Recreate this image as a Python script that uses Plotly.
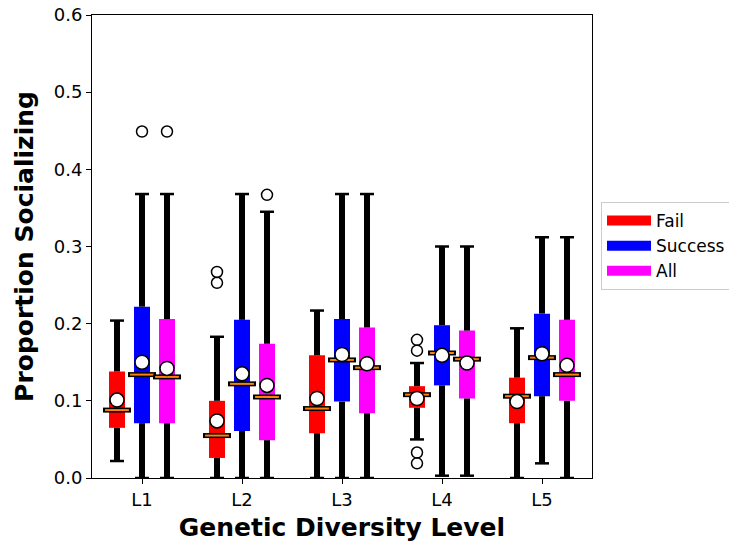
import plotly.graph_objects as go

# Proportion of time spent socializing, per genetic diversity level and outcome group
levels = ["L1", "L2", "L3", "L4", "L5"]
groups = ["Fail", "Success", "All"]
group_colors = ["#ff0000", "#0000ff", "#ff00ff"]

fail_lo = [0.022, 0.0, 0.0, 0.050, 0.0]
fail_q1 = [0.065, 0.026, 0.058, 0.091, 0.071]
fail_med = [0.088, 0.055, 0.090, 0.108, 0.106]
fail_q3 = [0.138, 0.100, 0.159, 0.119, 0.130]
fail_hi = [0.204, 0.183, 0.217, 0.149, 0.194]
fail_mean = [0.101, 0.074, 0.103, 0.103, 0.099]
fail_out = [[], [0.253, 0.267], [], [0.019, 0.033, 0.165, 0.179], []]

success_lo = [0.0, 0.0, 0.0, 0.003, 0.019]
success_q1 = [0.071, 0.061, 0.099, 0.120, 0.106]
success_med = [0.134, 0.122, 0.153, 0.162, 0.156]
success_q3 = [0.222, 0.205, 0.206, 0.198, 0.213]
success_hi = [0.368, 0.368, 0.368, 0.300, 0.312]
success_mean = [0.150, 0.135, 0.160, 0.159, 0.161]
success_out = [[0.449], [], [], [], []]

all_lo = [0.0, 0.0, 0.0, 0.003, 0.0]
all_q1 = [0.071, 0.049, 0.084, 0.103, 0.100]
all_med = [0.131, 0.105, 0.143, 0.154, 0.134]
all_q3 = [0.206, 0.174, 0.195, 0.191, 0.205]
all_hi = [0.368, 0.345, 0.368, 0.300, 0.312]
all_mean = [0.142, 0.120, 0.148, 0.149, 0.146]
all_out = [[0.449], [0.367], [], [], []]

stats = [
    (fail_lo, fail_q1, fail_med, fail_q3, fail_hi, fail_mean, fail_out),
    (success_lo, success_q1, success_med, success_q3, success_hi, success_mean, success_out),
    (all_lo, all_q1, all_med, all_q3, all_hi, all_mean, all_out),
]

offsets = [-0.25, 0.0, 0.25]
box_width = 0.16
base_pos = list(range(1, len(levels) + 1))

fig = go.Figure()

# whiskers, caps and boxes for each group
for g, (lo, q1, med, q3, hi, mean, out) in enumerate(stats):
    xs = [p + offsets[g] for p in base_pos]

    wx, wy = [], []
    for x, a, b, c, d in zip(xs, lo, q1, q3, hi):
        wx += [x, x, None, x, x, None]
        wy += [a, b, None, c, d, None]
    fig.add_trace(go.Scatter(x=wx, y=wy, mode="lines",
                             line=dict(color="black", width=6),
                             showlegend=False, hoverinfo="skip"))
    fig.add_trace(go.Scatter(x=xs + xs, y=lo + hi, mode="markers",
                             marker=dict(symbol="line-ew", size=10,
                                         line=dict(color="black", width=2.5)),
                             showlegend=False, hoverinfo="skip"))
    fig.add_trace(go.Bar(x=xs, y=[c - b for b, c in zip(q1, q3)], base=q1,
                         width=box_width, marker=dict(color=group_colors[g], line=dict(width=0)),
                         showlegend=False, hoverinfo="skip"))

# medians, means and outliers
for g, (lo, q1, med, q3, hi, mean, out) in enumerate(stats):
    xs = [p + offsets[g] for p in base_pos]
    fig.add_trace(go.Scatter(x=xs, y=med, mode="markers",
                             marker=dict(symbol="line-ew", size=20,
                                         line=dict(color="black", width=5)),
                             showlegend=False, hoverinfo="skip"))
    fig.add_trace(go.Scatter(x=xs, y=med, mode="markers",
                             marker=dict(symbol="line-ew", size=17,
                                         line=dict(color="#ff7f0e", width=2)),
                             showlegend=False, hoverinfo="skip"))
    fig.add_trace(go.Scatter(x=xs, y=mean, mode="markers",
                             marker=dict(symbol="circle", size=14, color="white",
                                         line=dict(color="black", width=1.5)),
                             showlegend=False, hoverinfo="skip"))
    ox, oy = [], []
    for x, vals in zip(xs, out):
        ox += [x] * len(vals)
        oy += vals
    fig.add_trace(go.Scatter(x=ox, y=oy, mode="markers",
                             marker=dict(symbol="circle-open", size=11, color="black",
                                         line=dict(width=1.5)),
                             showlegend=False, hoverinfo="skip"))

# legend entries
for name, col in zip(groups, group_colors):
    fig.add_trace(go.Scatter(x=[None], y=[None], mode="lines", name=name,
                             line=dict(color=col, width=12)))

fig.update_layout(
    width=729, height=542,
    margin=dict(l=92, r=137, t=15, b=64, autoexpand=False),
    paper_bgcolor="white", plot_bgcolor="white",
    barmode="overlay",
    font=dict(family="DejaVu Sans", color="black"),
    legend=dict(x=1.018, y=0.596, xanchor="left", yanchor="top",
                bordercolor="#cccccc", borderwidth=1, bgcolor="white",
                font=dict(size=17), tracegroupgap=0, itemwidth=44),
)
fig.update_xaxes(range=[0.5, 5.5], tickvals=base_pos, ticktext=levels,
                 showgrid=False, zeroline=False, showline=True, linecolor="black",
                 linewidth=1, mirror=True, ticks="outside", ticklen=5, tickcolor="black",
                 tickfont=dict(size=18), automargin=False,
                 title=dict(text="<b>Genetic Diversity Level</b>", font=dict(size=25), standoff=10))
fig.update_yaxes(range=[0, 0.6], tickvals=[0, 0.1, 0.2, 0.3, 0.4, 0.5, 0.6],
                 tickformat=".1f",
                 showgrid=False, zeroline=False, showline=True, linecolor="black",
                 linewidth=1, mirror=True, ticks="outside", ticklen=5, tickcolor="black",
                 tickfont=dict(size=18), automargin=False,
                 title=dict(text="<b>Proportion Socializing</b>", font=dict(size=25), standoff=13))

fig.write_html("out.html")
